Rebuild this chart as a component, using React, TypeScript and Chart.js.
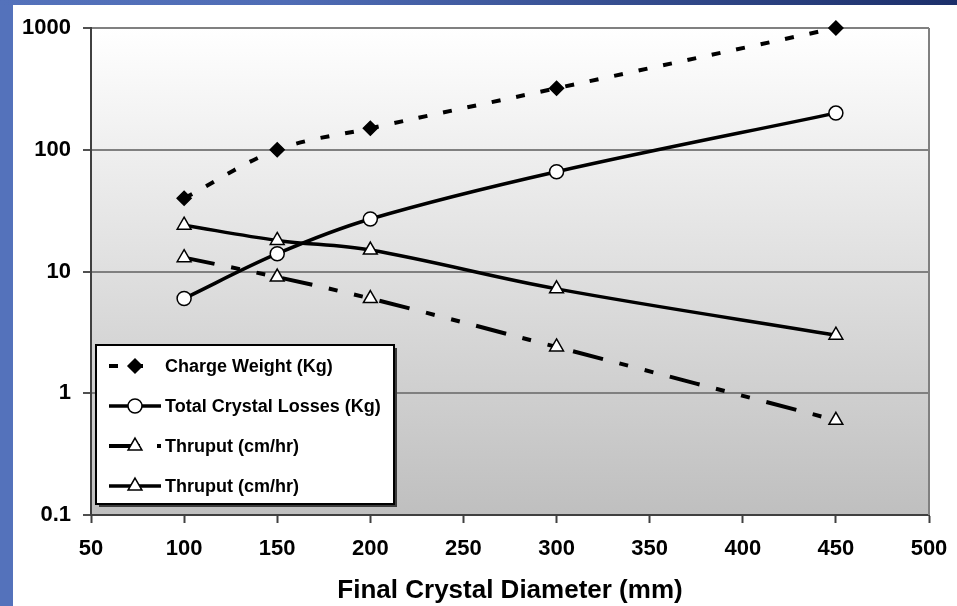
import React, { useEffect, useRef } from 'react';
import { Chart, registerables } from 'chart.js';

Chart.register(...registerables);

const diameters = [100, 150, 200, 300, 450];
const chargeWeight = [40, 100, 150, 320, 1000];
const crystalLosses = [6, 14, 27, 66, 200];
const thruputDashed = [13, 9, 6, 2.4, 0.6];
const thruputSolid = [24, 18, 15, 7.2, 3];
const yTickValues = [0.1, 1, 10, 100, 1000];
const seriesLabels = ['Charge Weight (Kg)', 'Total Crystal Losses (Kg)', 'Thruput (cm/hr)', 'Thruput (cm/hr)'];
const xTitle = 'Final Crystal Diameter (mm)';

const FONT = '"Liberation Sans", Arial, Helvetica, sans-serif';

const toPoints = (ys: number[]) => diameters.map((x, i) => ({ x, y: ys[i] }));

const bgPlugin = {
  id: 'plotBg',
  beforeDraw(chart: any) {
    const { ctx, chartArea: a } = chart;
    const g = ctx.createLinearGradient(0, a.top, 0, a.bottom);
    g.addColorStop(0, '#ffffff');
    g.addColorStop(1, '#bfbfbf');
    ctx.save();
    ctx.fillStyle = g;
    ctx.fillRect(a.left, a.top, a.right - a.left, a.bottom - a.top);
    ctx.restore();
  },
  beforeDatasetsDraw(chart: any) {
    const { ctx, chartArea: a } = chart;
    ctx.save();
    ctx.strokeStyle = '#808080';
    ctx.lineWidth = 2;
    ctx.beginPath();
    ctx.moveTo(a.right, a.top);
    ctx.lineTo(a.right, a.bottom);
    ctx.stroke();
    ctx.restore();
  },
};

function drawMarker(ctx: CanvasRenderingContext2D, style: string, x: number, y: number, r: number, fill: string) {
  ctx.save();
  ctx.setLineDash([]);
  ctx.lineWidth = 1.5;
  ctx.strokeStyle = '#000';
  ctx.fillStyle = fill;
  ctx.beginPath();
  if (style === 'rectRot') {
    ctx.moveTo(x - r, y);
    ctx.lineTo(x, y - r);
    ctx.lineTo(x + r, y);
    ctx.lineTo(x, y + r);
    ctx.closePath();
  } else if (style === 'circle') {
    ctx.arc(x, y, r, 0, Math.PI * 2);
  } else {
    const s = Math.sin(Math.PI / 3) * r;
    ctx.moveTo(x, y - r);
    ctx.lineTo(x + s, y + r / 2);
    ctx.lineTo(x - s, y + r / 2);
    ctx.closePath();
  }
  ctx.fill();
  ctx.stroke();
  ctx.restore();
}

const legendPlugin = {
  id: 'boxLegend',
  afterDraw(chart: any) {
    const { ctx, chartArea: a } = chart;
    const bx = a.left + 5;
    const by = a.top + 317;
    const bw = 298;
    const bh = 159;
    ctx.save();
    ctx.fillStyle = '#3c3c3c';
    ctx.fillRect(bx + 3, by + 3, bw, bh);
    ctx.fillStyle = '#ffffff';
    ctx.fillRect(bx, by, bw, bh);
    ctx.strokeStyle = '#000';
    ctx.lineWidth = 2;
    ctx.strokeRect(bx, by, bw, bh);
    chart.data.datasets.forEach((ds: any, i: number) => {
      const y = by + 21 + i * 40;
      ctx.save();
      ctx.strokeStyle = '#000';
      ctx.lineWidth = ds.borderWidth;
      ctx.setLineDash(ds.borderDash || []);
      ctx.beginPath();
      ctx.moveTo(bx + 13, y);
      ctx.lineTo(bx + (i === 0 ? 50 : 65), y);
      ctx.stroke();
      ctx.restore();
      drawMarker(ctx, ds.pointStyle, bx + 39, y, ds.pointRadius, ds.pointBackgroundColor);
      ctx.fillStyle = '#000';
      ctx.font = `bold 18px ${FONT}`;
      ctx.textBaseline = 'middle';
      ctx.textAlign = 'left';
      ctx.fillText(ds.label, bx + 69, y + 1);
    });
    ctx.restore();
  },
};

export default function App() {
  const ref = useRef<HTMLCanvasElement>(null);
  useEffect(() => {
    const common = {
      borderColor: '#000',
      pointBorderColor: '#000',
      pointBorderWidth: 1.5,
      tension: 0.35,
      fill: false,
      clip: false as any,
    };
    const chart = new Chart(ref.current as HTMLCanvasElement, {
      type: 'line',
      data: {
        datasets: [
          {
            ...common,
            label: seriesLabels[0],
            data: toPoints(chargeWeight),
            borderWidth: 4,
            borderDash: [9, 16],
            pointStyle: 'rectRot',
            pointRadius: 7,
            pointBackgroundColor: '#000',
          },
          {
            ...common,
            label: seriesLabels[1],
            data: toPoints(crystalLosses),
            borderWidth: 3.5,
            pointStyle: 'circle',
            pointRadius: 7,
            pointBackgroundColor: '#fff',
          },
          {
            ...common,
            label: seriesLabels[2],
            data: toPoints(thruputDashed),
            borderWidth: 4,
            borderDash: [31, 17, 9, 17, 9, 17],
            pointStyle: 'triangle',
            pointRadius: 8,
            pointBackgroundColor: '#fff',
          },
          {
            ...common,
            label: seriesLabels[3],
            data: toPoints(thruputSolid),
            borderWidth: 3.5,
            pointStyle: 'triangle',
            pointRadius: 8,
            pointBackgroundColor: '#fff',
          },
        ] as any,
      },
      options: {
        responsive: false,
        maintainAspectRatio: false,
        animation: false,
        layout: { padding: { left: 0, top: 28, right: 28, bottom: 0 } },
        plugins: {
          legend: { display: false },
          tooltip: { enabled: false },
        },
        scales: {
          x: {
            type: 'linear',
            min: 50,
            max: 500,
            afterFit: (s: any) => {
              s.height = 91;
              s.paddingRight = 0;
              s.paddingLeft = 0;
            },
            ticks: {
              stepSize: 50,
              color: '#000',
              padding: 13,
              font: { family: FONT, size: 22, weight: 'bold' },
            },
            grid: {
              drawOnChartArea: false,
              drawTicks: true,
              tickLength: 8,
              tickColor: '#404040',
              tickWidth: 2,
            },
            border: { color: '#404040', width: 2 },
            title: {
              display: true,
              text: xTitle,
              color: '#000',
              padding: { top: 0, bottom: 0 },
              font: { family: FONT, size: 26, weight: 'bold' },
            },
          },
          y: {
            type: 'logarithmic',
            min: 0.1,
            max: 1000,
            afterFit: (s: any) => {
              s.width = 91;
            },
            afterBuildTicks: (s: any) => {
              s.ticks = yTickValues.map((v) => ({ value: v, major: true }));
            },
            ticks: {
              autoSkip: false,
              color: '#000',
              padding: 12,
              font: { family: FONT, size: 22, weight: 'bold' },
              callback: (v: any) => String(v),
            },
            grid: {
              color: '#808080',
              lineWidth: 2,
              tickLength: 8,
              tickColor: '#505050',
              tickWidth: 2,
            },
            border: { color: '#404040', width: 2 },
          },
        },
      },
      plugins: [bgPlugin, legendPlugin],
    } as any);
    return () => chart.destroy();
  }, []);

  return (
    <div
      style={{
        position: 'absolute',
        left: 0,
        top: 0,
        width: 957,
        height: 606,
        background: '#fff',
        overflow: 'hidden',
      }}
    >
      <canvas ref={ref} width={957} height={606} style={{ position: 'absolute', left: 0, top: 0 }} />
      <div style={{ position: 'absolute', left: 0, top: 0, width: 13, height: 606, background: '#5472bb' }} />
      <div
        style={{
          position: 'absolute',
          left: 0,
          top: 0,
          width: 957,
          height: 5,
          background: 'linear-gradient(to right, #5472bb, #4f6cb5 30%, #1c2f6a)',
        }}
      />
    </div>
  );
}
